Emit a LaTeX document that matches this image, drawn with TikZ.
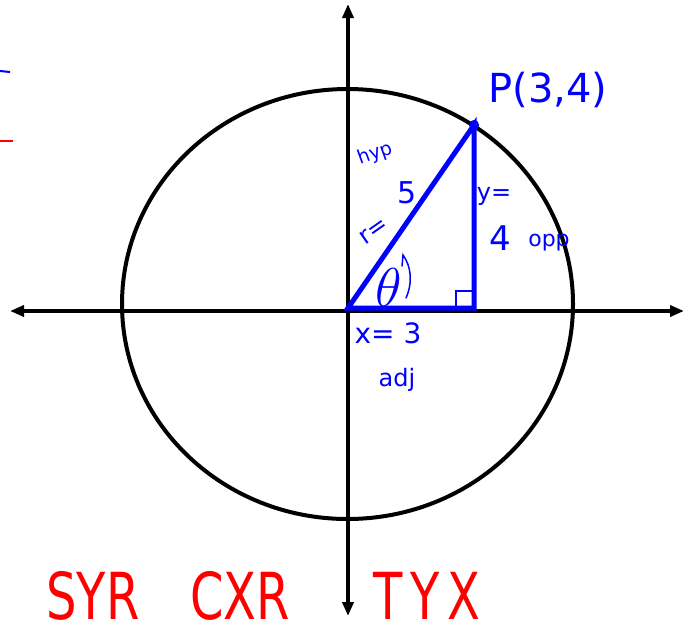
\documentclass[tikz,border=0pt]{standalone}
\usepackage{fontspec}
\setmainfont{DejaVu Sans}
\usetikzlibrary{arrows.meta}
\begin{document}
\begin{tikzpicture}[x=1pt,y=-1pt,
  axis/.style={line width=4pt,{Triangle[length=14pt,width=11pt]}-{Triangle[length=14pt,width=11pt]}},
  blueline/.style={blue,line width=5pt},
  hand/.style={blue,inner sep=0pt,font=\fontsize{30}{30}\selectfont},
  redtxt/.style={red,inner sep=0pt,font=\fontsize{48}{48}\selectfont,yscale=1.35}]
\useasboundingbox (0,0) rectangle (684,635);
% axes
\coordinate (L) at (10,311);
\coordinate (R) at (684,311);
\coordinate (T) at (348,4);
\coordinate (B) at (348,616);
\draw[axis] (L) -- (R);
\draw[axis] (T) -- (B);
% circle
\draw[line width=4pt] (347.5,304) ellipse [x radius=225.5, y radius=215];
% triangle
\coordinate (A) at (348,308);
\coordinate (P) at (474,125);
\coordinate (F) at (474,308);
\draw[blueline,line join=miter] (A) -- (P) -- (F) -- cycle;
\draw[blue,line width=2pt] (P) circle (4);
% right angle mark
\draw[blue,line width=1.5pt] (456,306) -- (456,291) -- (472,291);
% theta arc
\draw[blue,line width=1.5pt,line cap=round] (406,298) .. controls (413,282) and (411,266) .. (403,255) -- (402,266);
% labels
\node[hand,font=\fontsize{40}{40}\selectfont] (plab) at (548,90) {P(3,4)};
\node[hand,font=\fontsize{19}{19}\selectfont,rotate=20] (hyp) at (375,154) {hyp};
\node[hand,font=\fontsize{30}{30}\selectfont] (five) at (407,193) {5};
\node[hand,font=\fontsize{24}{24}\selectfont,rotate=35] (req) at (374,231) {r=};
\node[hand,scale=2.2] (th) at (389,287) {$\theta$};
\node[hand,font=\fontsize{24}{24}\selectfont] (yeq) at (494,196) {y=};
\node[hand,font=\fontsize{34}{34}\selectfont] (four) at (500,238) {4};
\node[hand,font=\fontsize{22}{22}\selectfont] (opp) at (549,243) {opp};
\node[hand,font=\fontsize{28}{28}\selectfont] (xeq) at (388,333) {x= 3};
\node[hand,font=\fontsize{24}{24}\selectfont] (adj) at (397,380) {adj};
% red text
\node[redtxt] (syr) at (93,596) {SYR};
\node[redtxt] (cxr) at (240,596) {CXR};
\node[redtxt] (tyx) at (427,596) {T\,Y\,X};
% clipped marks at left edge
\draw[blue,line width=2pt] (0,71) -- (10,72);
\draw[red,line width=2pt] (0,141) -- (13,141);
\end{tikzpicture}
\end{document}
